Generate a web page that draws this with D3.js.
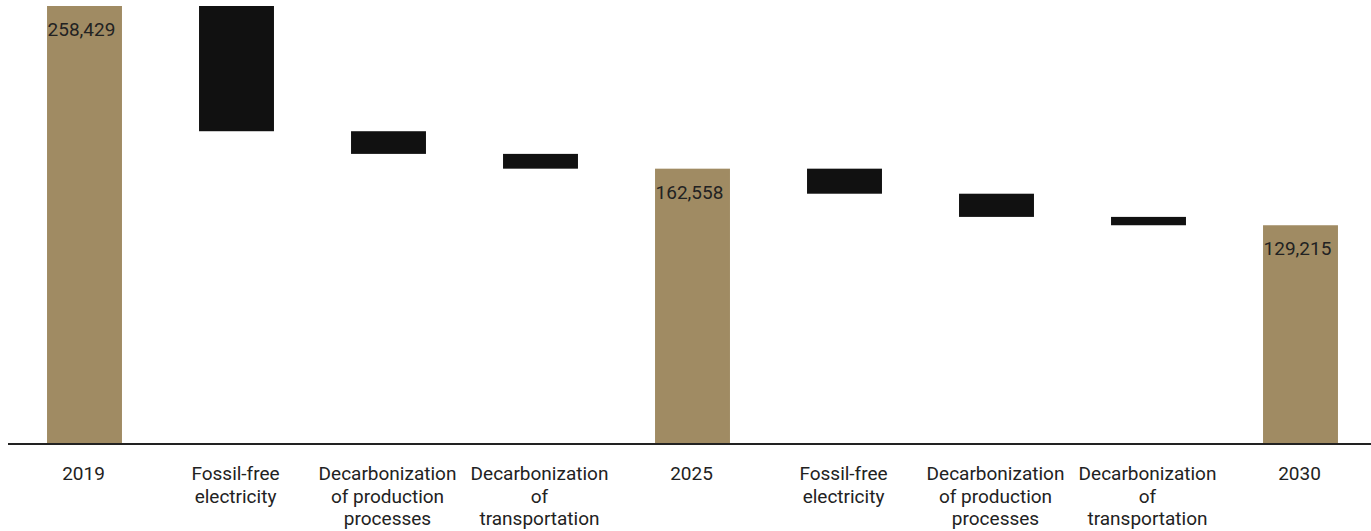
<!DOCTYPE html>
<html><head><meta charset="utf-8">
<script src="https://cdn.jsdelivr.net/npm/d3@7"></script>
<style>html,body{margin:0;padding:0;background:#fff;}svg{display:block;}</style>
</head><body>
<svg id="c" width="1371" height="531"></svg>
<script>
const categories = ["2019","Fossil-free electricity","Decarbonization of production processes","Decarbonization of transportation","2025","Fossil-free electricity ","Decarbonization of production processes ","Decarbonization of transportation ","2030"];
const labelLines = [["2019"],["Fossil-free","electricity"],["Decarbonization","of production","processes"],["Decarbonization","of","transportation"],["2025"],["Fossil-free","electricity"],["Decarbonization","of production","processes"],["Decarbonization","of","transportation"],["2030"]];
const kinds = ["total","delta","delta","delta","total","delta","delta","delta","total"];
const values = [258429, -73800, -13360, -8711, 162558, -14758, -13665, -4920, 129215];

const svg = d3.select("#c");
const x = d3.scaleBand().domain(categories).range([8.5, 8.5+1368]).paddingInner(0.507).paddingOuter(0.2535);
const y = d3.scaleLinear().domain([0, 258429]).range([444.5, 6]);

let run = 0;
const bars = values.map((v,i)=>{
  let y0,y1;
  if(kinds[i]==="total"){ y0=0; y1=v; run=v; }
  else { y0=run; y1=run+v; run=y1; }
  return {cat:categories[i], kind:kinds[i], lo:Math.min(y0,y1), hi:Math.max(y0,y1), v};
});

svg.selectAll("rect.bar").data(bars).join("rect")
  .attr("x", d=>x(d.cat)).attr("width", x.bandwidth())
  .attr("y", d=>y(d.hi)).attr("height", d=>y(d.lo)-y(d.hi))
  .attr("fill", d=>d.kind==="total" ? "#A08B63" : "#111111");

svg.selectAll("text.val").data(bars.filter(d=>d.kind==="total")).join("text")
  .attr("x", d=>x(d.cat)+0.5).attr("y", d=>y(d.hi)+30)
  .attr("font-family","Roboto, sans-serif").attr("font-size",19).attr("fill","#222")
  .text(d=>d3.format(",")(d.v));

svg.append("line").attr("x1",8).attr("x2",1371).attr("y1",444).attr("y2",444)
  .attr("stroke","#222").attr("stroke-width",2);

const lab = svg.selectAll("text.cat").data(categories).join("text")
  .attr("text-anchor","middle")
  .attr("font-family","Roboto, sans-serif")
  .attr("font-size",19).attr("fill","#222")
  .attr("transform", d=>`translate(${x(d)+x.bandwidth()/2-1},480)`);
lab.each(function(d,i){
  d3.select(this).selectAll("tspan").data(labelLines[i]).join("tspan")
    .attr("x",0).attr("y",(t,j)=>j*22.5).text(t=>t);
});
</script>
</body></html>
